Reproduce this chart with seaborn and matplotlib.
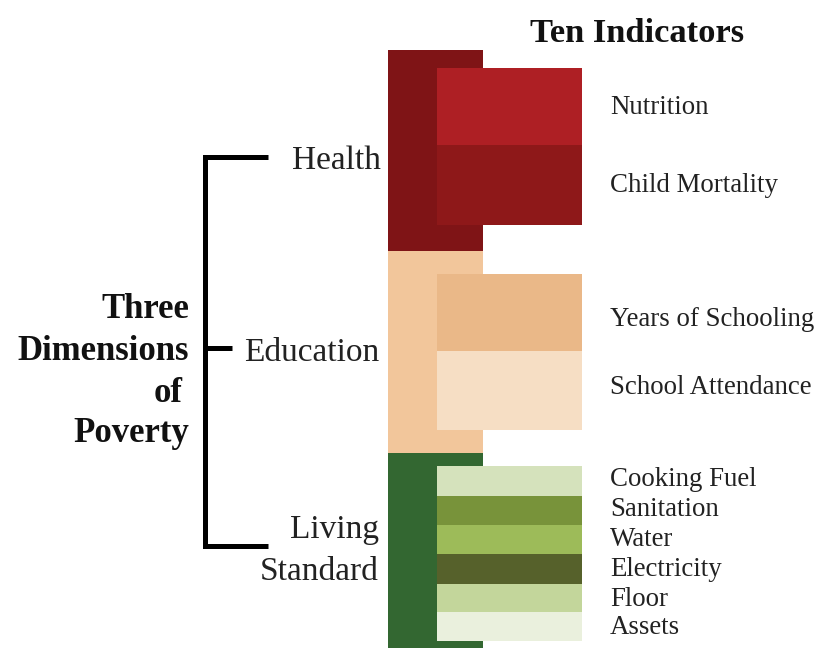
import matplotlib
matplotlib.use("Agg")
import matplotlib.pyplot as plt
import seaborn as sns

# Values: band heights (weights)
dimensions = ["Health", "Education", "Living Standard"]
dimension_heights = [201, 202, 195]
dimension_colors = ["#7F1416", "#F2C69B", "#336731"]
health_indicators = ["Nutrition", "Child Mortality"]
health_heights = [77, 80]
health_colors = ["#AE1F24", "#8E1819"]
education_indicators = ["Years of Schooling", "School Attendance"]
education_heights = [77, 79]
education_colors = ["#EAB888", "#F6DEC4"]
living_indicators = ["Cooking Fuel", "Sanitation", "Water", "Electricity", "Floor", "Assets"]
living_heights = [30, 29, 29, 30, 28, 29]
living_colors = ["#D5E2BC", "#78933A", "#9DBB59", "#56612B", "#C3D69B", "#EAF0DD"]

TOP = 50
PAD = [18, 23, 13]
GROUP_TEXT_Y = [[106, 184], [317, 385], [478, 508, 538, 568, 598, 626]]

sns.set_theme(style="white")
plt.rcParams["font.family"] = ["Liberation Serif", "DejaVu Serif"]

fig = plt.figure(figsize=(8.19, 6.48), dpi=100)
ax = fig.add_axes([0, 0, 1, 1])


def band(center, width, height, bottom, color):
    sns.barplot(x=[center], y=[height], bottom=bottom, width=width, native_scale=True,
                color=color, saturation=1, errorbar=None, linewidth=0, ax=ax)


top = TOP
groups = [(health_indicators, health_heights, health_colors),
          (education_indicators, education_heights, education_colors),
          (living_indicators, living_heights, living_colors)]
for i, (dh, dc) in enumerate(zip(dimension_heights, dimension_colors)):
    band(435.5, 95, dh, top, dc)
    names, heights, colors = groups[i]
    y = top + PAD[i]
    for name, h, c, ty in zip(names, heights, colors, GROUP_TEXT_Y[i]):
        band(509.5, 145, h, y, c)
        ax.text(610, ty + 2, name, fontsize=19.4, va="center", ha="left", color="#222222")
        y += h
    top += dh

ax.set_xlim(0, 819)
ax.set_ylim(648, 0)
ax.axis("off")

ax.plot([268, 205, 205, 268], [157, 157, 546, 546], color="black", lw=3.6,
        solid_joinstyle="miter", solid_capstyle="butt")
ax.plot([205, 232], [348, 348], color="black", lw=3.6, solid_capstyle="butt")

for txt, x, y in [("Health", 381, 161), ("Education", 379, 353), ("Living", 379, 530), ("Standard", 379, 572)]:
    ax.text(x, y, txt, fontsize=24, ha="right", va="center", color="#222222")
for txt, x, y in [("Three", 189, 310), ("Dimensions", 189, 352), ("of", 183, 393), ("Poverty", 189, 433)]:
    ax.text(x, y, txt, fontsize=25, ha="right", va="center", weight="bold", color="#111111")
ax.text(637, 34, "Ten Indicators", fontsize=24.8, ha="center", va="center", weight="bold", color="#111111")

fig.savefig("out.png", dpi=100)
